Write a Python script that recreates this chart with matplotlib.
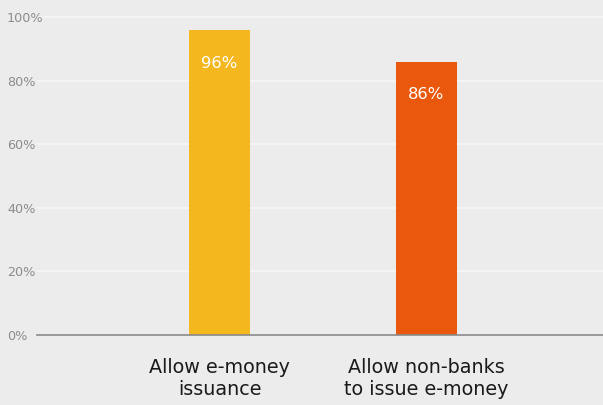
import matplotlib.pyplot as plt

# Share of respondents (%) per policy question
categories = ['Allow e-money\nissuance', 'Allow non-banks\nto issue e-money']
shares = [96, 86]
bar_colors = ['#f4b71e', '#e9580c']
yticks = [0, 20, 40, 60, 80, 100]

BG = '#ececec'

fig = plt.figure(figsize=(6.03, 4.05), dpi=100, facecolor=BG)
ax = fig.add_axes([0.0614, 0.1736, 0.9386, 0.8])
ax.set_facecolor(BG)

x = range(len(categories))
ax.bar(x, shares, width=0.295, color=bar_colors, zorder=3)

# white value labels inside the top of each bar
for xi, v in zip(x, shares):
    ax.text(xi, v - 10.5, f'{v}%', ha='center', va='center',
            color='white', fontsize=11.8, zorder=4)

ax.set_xlim(-0.882, 1.853)
ax.set_ylim(0, 102)
ax.set_yticks(yticks)
ax.set_yticklabels([f'{t}%' for t in yticks], ha='left')
ax.set_xticks(list(x))
ax.set_xticklabels(categories, fontsize=13.8, color='#1a1a1a', linespacing=1.2)

ax.tick_params(axis='y', length=0, pad=21.6, labelsize=9.2, labelcolor='#8c8c8c')
ax.tick_params(axis='x', length=0, pad=16.5)

ax.grid(axis='y', color='#f4f4f4', linewidth=1.5, zorder=0)
ax.set_axisbelow(True)

for side in ['top', 'right', 'left']:
    ax.spines[side].set_visible(False)
ax.spines['bottom'].set_color('#8a8a8a')
ax.spines['bottom'].set_linewidth(1.2)
ax.spines['bottom'].set_zorder(5)

fig.savefig('out.png', dpi=100, facecolor=BG)
